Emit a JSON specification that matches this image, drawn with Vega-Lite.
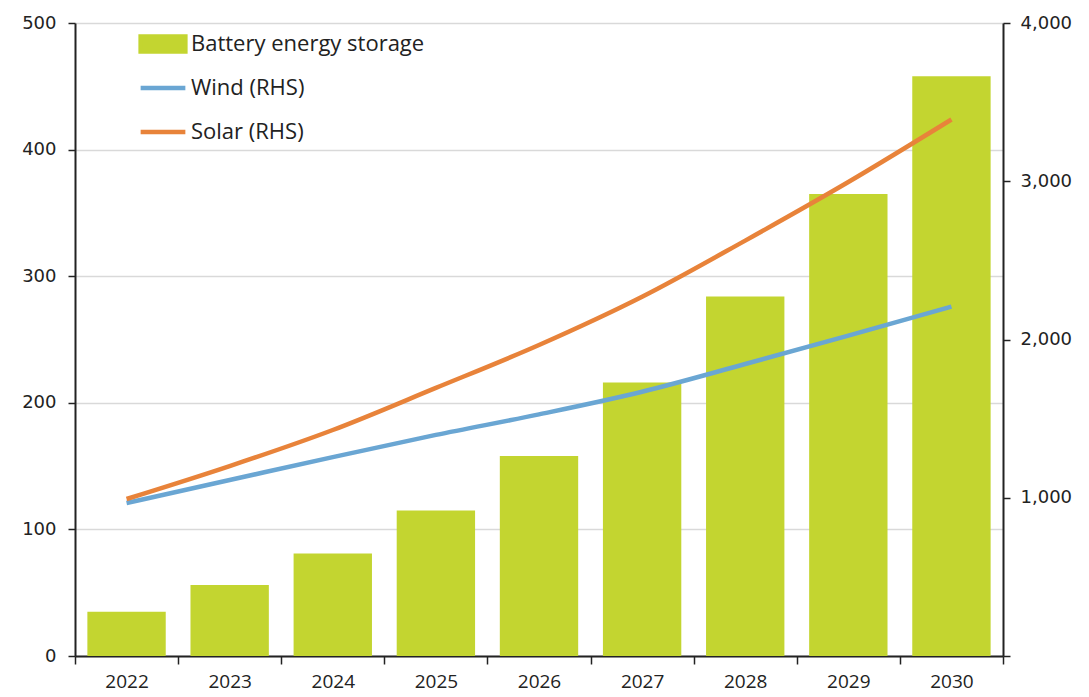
{
  "$schema": "https://vega.github.io/schema/vega-lite/v6.json",
  "width": 928,
  "height": 633,
  "autosize": {"type": "none"},
  "padding": {"left": 75, "top": 23, "right": 86, "bottom": 41},
  "background": "white",
  "config": {
    "view": {"stroke": null},
    "font": "Open Sans",
    "axis": {"labelColor": "#222222", "domainColor": "#222222", "tickColor": "#222222", "domainWidth": 2, "tickWidth": 1.5}
  },
  "data": {
    "values": [
      {"year": "2022", "battery": 35, "wind": 967, "solar": 992},
      {"year": "2023", "battery": 56, "wind": 1112, "solar": 1200},
      {"year": "2024", "battery": 81, "wind": 1257, "solar": 1428},
      {"year": "2025", "battery": 115, "wind": 1397, "solar": 1694},
      {"year": "2026", "battery": 158, "wind": 1527, "solar": 1965},
      {"year": "2027", "battery": 216, "wind": 1670, "solar": 2270},
      {"year": "2028", "battery": 284, "wind": 1845, "solar": 2625},
      {"year": "2029", "battery": 365, "wind": 2025, "solar": 2995},
      {"year": "2030", "battery": 458, "wind": 2208, "solar": 3390}
    ]
  },
  "encoding": {
    "x": {
      "field": "year", "type": "ordinal",
      "scale": {"paddingInner": 0, "paddingOuter": 0},
      "axis": {"title": null, "labelAngle": 0, "labelFontSize": 19, "labelFont": "Open Sans", "tickBand": "extent", "tickSize": 8, "labelPadding": 8, "grid": false}
    }
  },
  "layer": [
    {
      "mark": {"type": "bar", "width": {"band": 0.76}},
      "encoding": {
        "y": {
          "field": "battery", "type": "quantitative",
          "scale": {"domain": [0, 500], "nice": false},
          "axis": {"title": null, "values": [0, 100, 200, 300, 400, 500], "labelFontSize": 18, "labelFont": "DejaVu Sans", "tickSize": 7, "labelPadding": 12, "grid": true, "gridColor": "#d9d9d9", "gridWidth": 1.5, "orient": "left"}
        },
        "color": {
          "datum": "Battery energy storage",
          "scale": {"domain": ["Battery energy storage", "Wind (RHS)", "Solar (RHS)"], "range": ["#C3D530", "#6AA6D3", "#E8833A"]},
          "legend": {
            "title": null,
            "orient": "none",
            "legendX": 63,
            "legendY": -4,
            "labelFontSize": 22,
            "labelLimit": 400,
            "labelFont": "Open Sans",
            "labelColor": "#222222",
            "symbolSize": 2000,
            "symbolStrokeWidth": 4.5,
            "labelOffset": 3,
            "rowPadding": 2,
            "gridAlign": "all",
            "encode": {
              "symbols": {
                "update": {
                  "shape": {"signal": "datum.value == 'Battery energy storage' ? 'M-1,-0.33H1V0.33H-1Z' : 'M-1,0H1'"},
                  "fill": {"signal": "datum.value == 'Battery energy storage' ? '#C3D530' : 'transparent'"},
                  "stroke": {"signal": "datum.value == 'Battery energy storage' ? 'transparent' : (datum.value == 'Wind (RHS)' ? '#6AA6D3' : '#E8833A')"},
                  "strokeWidth": {"value": 4.5},
                  "opacity": {"value": 1}
                }
              }
            }
          }
        }
      }
    },
    {
      "layer": [
        {
          "mark": {"type": "line", "strokeWidth": 4.5, "interpolate": "monotone"},
          "encoding": {
            "y": {
              "field": "wind", "type": "quantitative",
              "scale": {"domain": [0, 4000], "nice": false},
              "axis": {"title": null, "orient": "right", "values": [0, 1000, 2000, 3000, 4000], "format": ",.0f", "labelExpr": "datum.value == 0 ? '' : datum.label", "labelFontSize": 18, "labelFont": "DejaVu Sans", "tickSize": 7, "labelPadding": 10, "grid": false}
            },
            "color": {"datum": "Wind (RHS)"}
          }
        },
        {
          "mark": {"type": "line", "strokeWidth": 4.5, "interpolate": "monotone"},
          "encoding": {
            "y": {"field": "solar", "type": "quantitative"},
            "color": {"datum": "Solar (RHS)"}
          }
        }
      ]
    }
  ],
  "resolve": {"scale": {"y": "independent"}}
}
